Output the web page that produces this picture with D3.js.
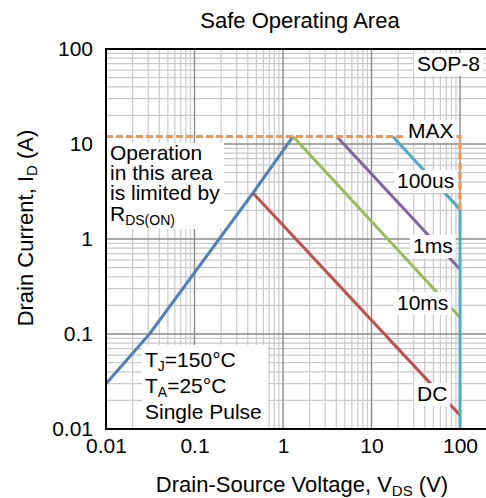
<!DOCTYPE html>
<html>
<head>
<meta charset="utf-8">
<script src="https://cdn.jsdelivr.net/npm/d3@7"></script>
<style>
  html, body { margin: 0; padding: 0; background: #fff; }
  svg { display: block; font-family: "Liberation Sans", Arial, sans-serif; }
</style>
</head>
<body>
<svg id="chart" width="486" height="498"></svg>
<script>
// ---- data ----
const xTicks = [0.01, 0.1, 1, 10, 100];
const xTickLabels = ["0.01", "0.1", "1", "10", "100"];
const yTicks = [0.01, 0.1, 1, 10, 100];
const yTickLabels = ["0.01", "0.1", "1", "10", "100"];

// V (V), I (A)
const rdsLimit = [[0.01, 0.030], [0.031, 0.10], [0.19, 1.0], [0.458, 3.05], [1.3, 12]];
const dcLine = [[0.458, 3.05], [100, 0.014]];
const ms10Line = [[1.3, 12], [100, 0.15]];
const ms1Line = [[4.05, 12], [100, 0.48]];
const us100Line = [[17.4, 12], [100, 2.05], [100, 0.01]];
const maxLine = [[0.01, 12], [100, 12], [100, 2.05]];

const seriesLabels = ["MAX", "100us", "1ms", "10ms", "DC"];

// ---- layout ----
const svg = d3.select("#chart");
const pL = 106, pR = 486, pT = 49, pB = 429, xEnd100 = 460;
const x = d3.scaleLog().domain([0.01, 100]).range([pL, xEnd100]);
const y = d3.scaleLog().domain([0.01, 100]).range([pB, pT]);
const xMaxVis = x.invert(pR);

// grid
const grid = svg.append("g");
const minorX = [], majorX = [];
for (let d = 0.01; d < 1000; d *= 10) {
  for (let k = 1; k < 10; k++) {
    const v = d * k;
    if (v > xMaxVis) continue;
    (k === 1 ? majorX : minorX).push(v);
  }
}
const minorY = [], majorY = [];
for (let d = 0.01; d <= 100; d *= 10) {
  for (let k = 1; k < 10; k++) {
    const v = d * k;
    if (v > 100.0001) continue;
    (k === 1 ? majorY : minorY).push(v);
  }
}
grid.selectAll(".mx").data(minorX).join("line")
  .attr("x1", d => x(d)).attr("x2", d => x(d)).attr("y1", pT).attr("y2", pB)
  .attr("stroke", "#c9c9c9").attr("stroke-width", 1.2);
grid.selectAll(".my").data(minorY).join("line")
  .attr("x1", pL).attr("x2", pR).attr("y1", d => y(d)).attr("y2", d => y(d))
  .attr("stroke", "#c9c9c9").attr("stroke-width", 1.2);
grid.selectAll(".Mx").data(majorX).join("line")
  .attr("x1", d => x(d)).attr("x2", d => x(d)).attr("y1", pT).attr("y2", pB)
  .attr("stroke", "#8a8a8a").attr("stroke-width", 1.4);
grid.selectAll(".My").data(majorY).join("line")
  .attr("x1", pL).attr("x2", pR).attr("y1", d => y(d)).attr("y2", d => y(d))
  .attr("stroke", "#8a8a8a").attr("stroke-width", 1.4);

// lines
const line = d3.line().x(d => x(d[0])).y(d => y(d[1]));
const series = [
  { data: rdsLimit, color: "#4F81BD" },
  { data: dcLine, color: "#C0504D" },
  { data: ms10Line, color: "#9BBB59" },
  { data: ms1Line, color: "#8064A2" },
  { data: us100Line, color: "#4BACC6" },
];
svg.append("g").selectAll("path").data(series).join("path")
  .attr("d", d => line(d.data)).attr("fill", "none")
  .attr("stroke", d => d.color).attr("stroke-width", 3).attr("stroke-linejoin", "round");
svg.append("path").attr("d", line(maxLine)).attr("fill", "none")
  .attr("stroke", "#F79646").attr("stroke-width", 3.2).attr("stroke-dasharray", "7,3");

// boxed labels
const fs = 21;
function boxed(lines, xPos, baselines, box) {
  const g = svg.append("g");
  const rect = g.append("rect").attr("fill", "#fff");
  const t = g.append("text").attr("font-size", fs).attr("fill", "#000");
  lines.forEach((ln, i) => {
    const tl = t.append("tspan").attr("x", xPos).attr("y", baselines[i]);
    if (typeof ln === "string") tl.text(ln);
    else {
      tl.text(ln[0]);
      t.append("tspan").attr("font-size", 14).attr("dy", 4).text(ln[1]);
      if (ln[2]) t.append("tspan").attr("dy", -4).text(ln[2]);
    }
  });
  if (box) {
    rect.attr("x", box[0]).attr("y", box[1]).attr("width", box[2] - box[0]).attr("height", box[3] - box[1]);
  } else {
    const b = t.node().getBBox();
    rect.attr("x", b.x - 3).attr("y", b.y + 1).attr("width", b.width + 6).attr("height", b.height);
  }
}
boxed(["SOP-8"], 417, [71]);
boxed([seriesLabels[0]], 408, [138]);
boxed([seriesLabels[1]], 397, [188]);
boxed([seriesLabels[2]], 413, [253]);
boxed([seriesLabels[3]], 397, [310]);
boxed([seriesLabels[4]], 417, [401]);
boxed(["Operation", "in this area", "is limited by", ["R", "DS(ON)"]], 110, [160, 180, 200, 221], [107, 143, 224, 229]);
boxed([["T", "J", "=150°C"], ["T", "A", "=25°C"], "Single Pulse"], 145, [367, 393, 419], [142, 345, 268, 428]);

// axes
const xAxis = svg.append("g").attr("transform", `translate(0,${pB})`)
  .call(d3.axisBottom(x).tickValues(xTicks).tickFormat((d, i) => xTickLabels[i]).tickSize(0).tickPadding(9));
xAxis.select(".domain").remove();
xAxis.selectAll("text").attr("font-size", fs).attr("font-family", "Liberation Sans, Arial, sans-serif").attr("fill", "#000");
const yAxis = svg.append("g").attr("transform", `translate(${pL},0)`)
  .call(d3.axisLeft(y).tickValues(yTicks).tickFormat((d, i) => yTickLabels[i]).tickSize(0).tickPadding(13));
yAxis.select(".domain").remove();
yAxis.selectAll("text").attr("font-size", fs).attr("font-family", "Liberation Sans, Arial, sans-serif").attr("fill", "#000");

svg.append("line").attr("x1", pL).attr("x2", pL).attr("y1", pT - 1).attr("y2", pB + 1).attr("stroke", "#000").attr("stroke-width", 2);
svg.append("line").attr("x1", pL - 1).attr("x2", pR).attr("y1", pB).attr("y2", pB).attr("stroke", "#000").attr("stroke-width", 2);
svg.append("line").attr("x1", pL - 1).attr("x2", pR).attr("y1", pT).attr("y2", pT).attr("stroke", "#000").attr("stroke-width", 2);

// titles
svg.append("text").attr("x", 300).attr("y", 28).attr("text-anchor", "middle").attr("font-size", 22).text("Safe Operating Area");
const xt = svg.append("text").attr("x", 302).attr("y", 492).attr("text-anchor", "middle").attr("font-size", 22);
xt.append("tspan").text("Drain-Source Voltage, V");
xt.append("tspan").attr("font-size", 15).attr("dy", 4).text("DS");
xt.append("tspan").attr("dy", -4).text(" (V)");
const yt = svg.append("text").attr("transform", "translate(33,228) rotate(-90)").attr("text-anchor", "middle").attr("font-size", 22);
yt.append("tspan").text("Drain Current, I");
yt.append("tspan").attr("font-size", 15).attr("dy", 4).text("D");
yt.append("tspan").attr("dy", -4).text(" (A)");
</script>
</body>
</html>
